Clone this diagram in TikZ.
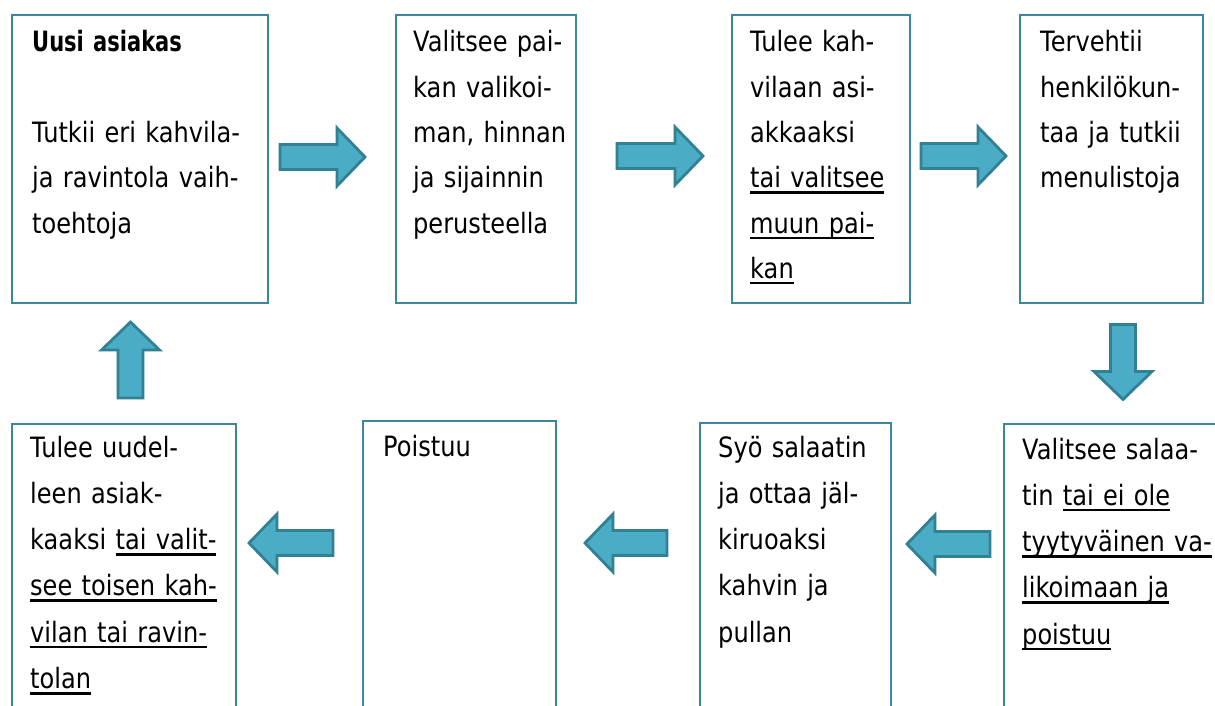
\documentclass[tikz,border=0pt]{standalone}
\usepackage{fontspec}
\setmainfont{DejaVu Sans}[FakeStretch=0.86,BoldFeatures={FakeStretch=0.75}]
\definecolor{boxline}{RGB}{60,135,158}
\definecolor{arrfill}{RGB}{75,172,198}
\definecolor{arrline}{RGB}{49,128,148}
\newcommand{\ulin}[1]{\leavevmode\setbox0\hbox{#1}\rlap{\vrule height -3.5pt depth 6pt width \wd0}\box0}
\tikzset{
  boxst/.style={draw=boxline, line width=1.6pt, fill=white, anchor=north west, inner sep=0pt},
  txt/.style={anchor=base west, inner sep=0pt, text width=320pt, align=left,
              font=\fontsize{28}{45.3}\selectfont},
  txtb/.style={txt, font=\fontsize{28}{46.3}\selectfont},
  arrowst/.style={fill=arrfill, draw=arrline, line width=2.8pt, line join=miter},
  barrow/.pic={\filldraw[arrowst] ({-#1/2},-12.5) -- ({#1/2-28},-12.5) -- ({#1/2-28},-29)
      -- ({#1/2},0) -- ({#1/2-28},29) -- ({#1/2-28},12.5) -- ({-#1/2},12.5) -- cycle;}
}
\begin{document}
\begin{tikzpicture}[x=1pt,y=-1pt]
\useasboundingbox (0,0) rectangle (1215,706);
\clip (0,0) rectangle (1215,706);
\fill[white] (0,0) rectangle (1215,706);
% boxes, top row
\node[boxst, minimum width=256pt, minimum height=288pt] (b1) at (11,14) {};
\node[boxst, minimum width=180pt, minimum height=288pt] (b2) at (395,14) {};
\node[boxst, minimum width=178pt, minimum height=288pt] (b3) at (731,14) {};
\node[boxst, minimum width=183pt, minimum height=288pt] (b4) at (1019,14) {};
% boxes, bottom row
\node[boxst, minimum width=224pt, minimum height=300pt] (b5) at (11,423) {};
\node[boxst, minimum width=193pt, minimum height=300pt] (b6) at (362,420) {};
\node[boxst, minimum width=191pt, minimum height=300pt] (b7) at (699,422) {};
\node[boxst, minimum width=230pt, minimum height=300pt] (b8) at (1003,423) {};
% texts
\node[txt, font=\fontsize{28}{45.3}\selectfont\bfseries] (t1a) at (32,52) {Uusi asiakas};
\node[txt] (t1) at (32,142.6) {Tutkii eri kahvila-\\ja ravintola vaih-\\toehtoja};
\node[txt] (t2) at (413,52) {Valitsee pai-\\kan valikoi-\\man, hinnan\\ja sijainnin\\perusteella};
\node[txt] (t3) at (750,52) {Tulee kah-\\vilaan asi-\\akkaaksi\\\ulin{tai valitsee}\\\ulin{muun pai-}\\\ulin{kan}};
\node[txt] (t4) at (1040,52) {Tervehtii\\henkilökun-\\taa ja tutkii\\menulistoja};
\node[txtb] (t5) at (30,457) {Tulee uudel-\\leen asiak-\\kaaksi \ulin{tai valit-}\\\ulin{see toisen kah-}\\\ulin{vilan tai ravin-}\\\ulin{tolan}};
\node[txtb] (t6) at (383,456) {Poistuu};
\node[txtb] (t7) at (718,457) {Syö salaatin\\ja ottaa jäl-\\kiruoaksi\\kahvin ja\\pullan};
\node[txtb] (t8) at (1022,459) {Valitsee salaa-\\tin \ulin{tai ei ole}\\\ulin{tyytyväinen va-}\\\ulin{likoimaan ja}\\\ulin{poistuu}};
% block arrows
\pic at (322.5,157) {barrow=85};
\pic at (660,156) {barrow=86};
\pic at (963.5,156) {barrow=85};
\pic[rotate=-90] at (1123,362) {barrow=75};
\pic[rotate=180] at (948.5,544) {barrow=83};
\pic[rotate=180] at (626,543) {barrow=82};
\pic[rotate=180] at (291,543) {barrow=84};
\pic[rotate=90] at (130.5,360) {barrow=76};
\end{tikzpicture}
\end{document}
